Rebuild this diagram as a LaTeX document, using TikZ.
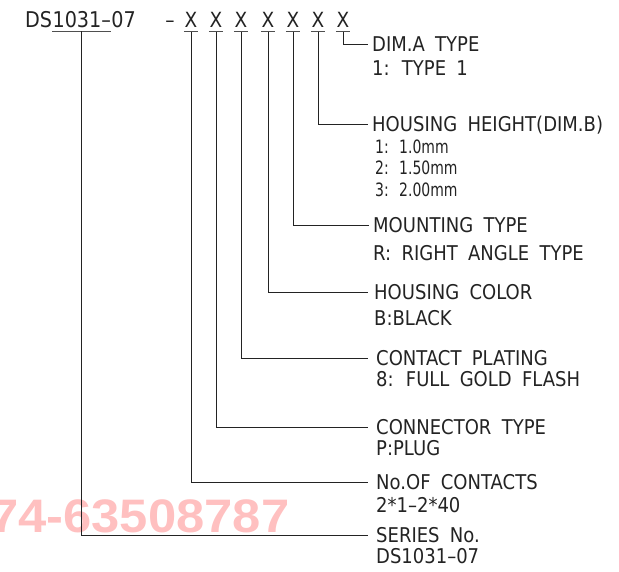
\documentclass[tikz,border=0pt]{standalone}
\usepackage{fontspec}
\setmainfont{DejaVu Sans}[WordSpace=1.8]
\newfontfamily\subfont{DejaVu Sans}
\newfontfamily\wmfont{Liberation Sans}
\newcommand\tl[1]{\scalebox{1}[1.13]{#1}}
\newcommand\tn[1]{\scalebox{0.8}[1.05]{#1}}
\definecolor{wmpink}{RGB}{255,192,192}
\definecolor{leadc}{RGB}{35,35,35}
\definecolor{txtc}{RGB}{35,35,35}
\begin{document}
\begin{tikzpicture}[x=1pt,y=-1pt,
  hdr/.style={anchor=west,inner sep=0pt,text height=14.7pt,text depth=0pt,text=txtc,font=\fontsize{18}{18}\selectfont},
  sub/.style={anchor=west,inner sep=0pt,text height=14.7pt,text depth=0pt,text=txtc,font=\fontsize{18}{18}\selectfont},
  small/.style={anchor=west,inner sep=0pt,text height=13.5pt,text depth=0pt,text=txtc,font=\subfont\fontsize{17.5}{17.5}\selectfont},
  ttl/.style={anchor=base west,inner sep=0pt,text=txtc,font=\fontsize{19.2}{19.2}\selectfont},
  xch/.style={anchor=base,inner sep=0pt,text=txtc,font=\fontsize{18.5}{18.5}\selectfont},
  lead/.style={draw=leadc,line width=0.8pt},
  uline/.style={draw=leadc!80,line width=1.5pt}
]
\useasboundingbox (0,0) rectangle (619,572);
% watermark
\node[anchor=west,inner sep=0pt,text=wmpink,font=\wmfont\bfseries\fontsize{47}{47}\selectfont] (wm) at (-10,516) {\scalebox{1.08}[1]{74-63508787}};

% title
\node[ttl] (ds) at (25,28) {\tl{DS}};
\node[ttl] (ser) at (ds.base east) {\tl{1031–}};
\node[ttl] (sfx) at (ser.base east) {\tl{07}};
\node[xch] (sep) at (170,28) {\tl{–}};
\node[xch] (x1) at (191,28) {\tl{X}};
\node[xch] (x2) at (216,28) {\tl{X}};
\node[xch] (x3) at (241,28) {\tl{X}};
\node[xch] (x4) at (268,28) {\tl{X}};
\node[xch] (x5) at (293,28) {\tl{X}};
\node[xch] (x6) at (318,28) {\tl{X}};
\node[xch] (x7) at (343,28) {\tl{X}};

% underlines
\draw[uline] ([yshift=-3.5pt]ser.base west) -- ([yshift=-3.5pt]ser.base east);
\foreach \n in {x1,x2,x3,x4,x5,x6,x7}{
  \draw[uline] ([xshift=-0.5pt,yshift=-3.5pt]\n.south west) -- ([xshift=0.5pt,yshift=-3.5pt]\n.south east);
}

% labels
\node[hdr] (l7) at (372,44) {\tl{DIM.A TYPE}};
\node[sub] (l7a) at (372,68) {\tl{1: TYPE 1}};
\node[hdr] (l6) at (372,124) {\tl{HOUSING HEIGHT(DIM.B)}};
\node[small] (l6a) at (375,147) {\tn{1: \ 1.0mm}};
\node[small] (l6b) at (375,168) {\tn{2: \ 1.50mm}};
\node[small] (l6c) at (375,190) {\tn{3: \ 2.00mm}};
\node[hdr] (l5) at (373,225) {\tl{MOUNTING TYPE}};
\node[sub] (l5a) at (373,253) {\tl{R: RIGHT ANGLE TYPE}};
\node[hdr] (l4) at (374,292) {\tl{HOUSING COLOR}};
\node[sub] (l4a) at (374,318) {\tl{B:BLACK}};
\node[hdr] (l3) at (376,358) {\tl{CONTACT PLATING}};
\node[sub] (l3a) at (376,379) {\tl{8: FULL GOLD FLASH}};
\node[hdr] (l2) at (376,427) {\tl{CONNECTOR TYPE}};
\node[sub] (l2a) at (376,448) {\tl{P:PLUG}};
\node[hdr] (l1) at (376,482) {\tl{No.OF CONTACTS}};
\node[sub] (l1a) at (376,505) {\tl{2*1–2*40}};
\node[hdr] (l0) at (376,535) {\tl{SERIES No.}};
\node[sub] (l0a) at (376,556) {\tl{DS1031–07}};

% leaders
\draw[lead] ([yshift=-3.5pt]x7.south) |- ([xshift=-4pt]l7.west);
\draw[lead] ([yshift=-3.5pt]x6.south) |- ([xshift=-4pt]l6.west);
\draw[lead] ([yshift=-3.5pt]x5.south) |- ([xshift=-4pt]l5.west);
\draw[lead] ([yshift=-3.5pt]x4.south) |- ([xshift=-6pt]l4.west);
\draw[lead] ([yshift=-3.5pt]x3.south) |- ([xshift=-8pt]l3.west);
\draw[lead] ([yshift=-3.5pt]x2.south) |- ([xshift=-8pt]l2.west);
\draw[lead] ([yshift=-3.5pt]x1.south) |- ([xshift=-8pt]l1.west);
\draw[lead] ([yshift=-3.5pt]ser.base) |- ([xshift=-8pt]l0.west);
\end{tikzpicture}
\end{document}
